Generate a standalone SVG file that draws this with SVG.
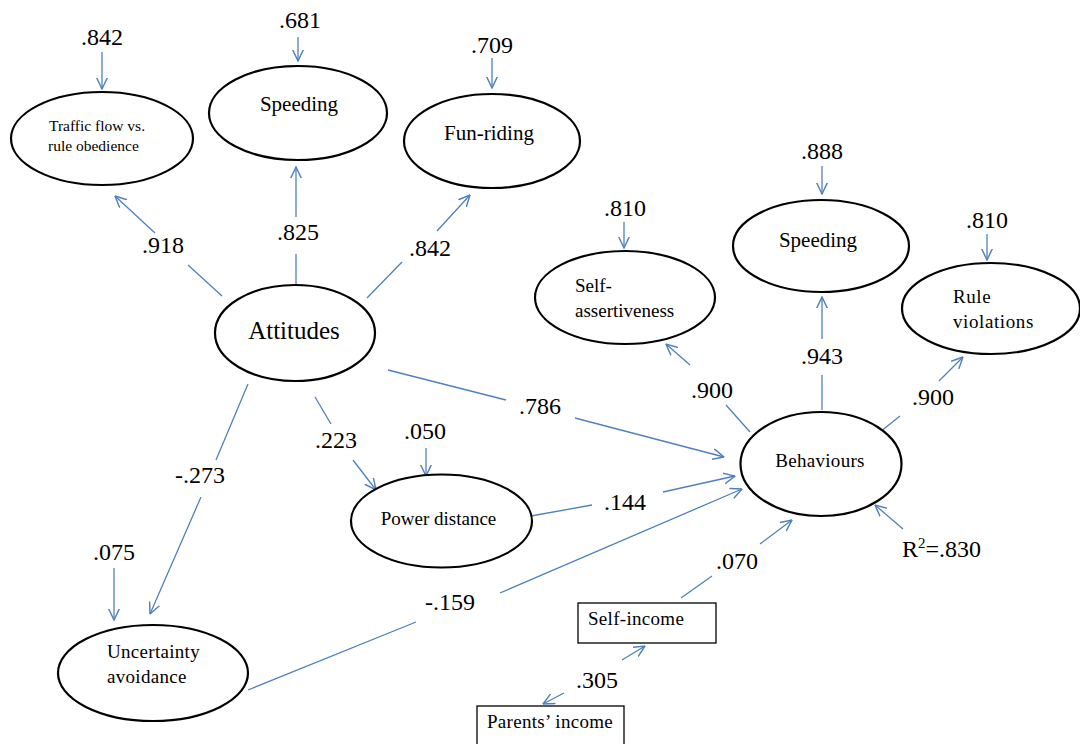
<svg xmlns="http://www.w3.org/2000/svg" width="1080" height="744" viewBox="0 0 1080 744">
<style>
.n ellipse{fill:#fff;stroke:#000;stroke-width:2.2}
.n rect{fill:#fff;stroke:#000;stroke-width:1.3}
text{font-family:"Liberation Serif","Times New Roman",serif;fill:#000}
.v{font-size:24px;text-anchor:middle}
.c{text-anchor:middle}
.s{font-size:19px}
#edges path{fill:none;stroke:#4F81BD;stroke-width:1.3;marker-end:url(#ah)}
</style>
<defs>
<marker id="ah" viewBox="0 0 10 10" refX="9.5" refY="5" markerWidth="12" markerHeight="12" markerUnits="userSpaceOnUse" orient="auto-start-reverse">
<path d="M0,0.5 L9.5,5 L0,9.5" fill="none" stroke="#4F81BD" stroke-width="1.2"/>
</marker>
</defs>
<rect width="1080" height="744" fill="#fff"/>
<g id="edges">
<path d="M222,296 L188,265 M155,233 L115,196"/>
<path d="M296,288 L296,254 M296,217 L296,167"/>
<path d="M367,298 L402,262 M437,231 L470,195"/>
<path d="M388,370 L506,400 M575,418 L724,457"/>
<path d="M315,397 L331,424 M353,460 L376,490"/>
<path d="M248,384 L216,460 M201,497 L150,614"/>
<path d="M426,448 L426,476"/>
<path d="M114,568 L114,620"/>
<path d="M248,690 L416,622 M500,593 L742,489"/>
<path d="M531,516 L592,505 M663,492 L735,476"/>
<path d="M681,598 L712,576 M760,544 L792,520"/>
<path d="M543,704 L564,693 M622,660 L645,646" marker-start="url(#ah)"/>
<path d="M903,529 L875,505"/>
<path d="M750,432 L726,405 M690,365 L666,344"/>
<path d="M822,410 L822,375 M822,339 L822,297"/>
<path d="M880,432 L900,416 M939,381 L963,357"/>
<path d="M102,52 L102,89"/>
<path d="M298,37 L298,61"/>
<path d="M492,58 L492,88"/>
<path d="M624,222 L624,248"/>
<path d="M822,166 L822,194"/>
<path d="M987,234 L987,260"/>
</g>
<g id="traffic" class="n"><ellipse cx="102" cy="138.5" rx="91" ry="46.5"/><text x="49" y="131" font-size="15.5">Traffic flow vs.</text><text x="48" y="151" font-size="15.5">rule obedience</text></g>
<g id="speeding1" class="n"><ellipse cx="298" cy="113" rx="89" ry="47"/><text class="c" x="299" y="111" font-size="21">Speeding</text></g>
<g id="funriding" class="n"><ellipse cx="492" cy="141" rx="88" ry="47"/><text class="c" x="489" y="140" font-size="21">Fun-riding</text></g>
<g id="attitudes" class="n"><ellipse cx="295" cy="333" rx="80" ry="48"/><text class="c" x="294" y="339" font-size="25">Attitudes</text></g>
<g id="selfassert" class="n"><ellipse cx="625" cy="297.5" rx="90" ry="46.5"/><text class="s" x="575" y="292">Self-</text><text class="s" x="575" y="317">assertiveness</text></g>
<g id="speeding2" class="n"><ellipse cx="821" cy="246" rx="88" ry="46"/><text class="c" x="818" y="247" font-size="21">Speeding</text></g>
<g id="rule" class="n"><ellipse cx="991" cy="308.5" rx="89" ry="45.5"/><text class="s" x="953" y="303" letter-spacing="0.6">Rule</text><text class="s" x="953" y="328" letter-spacing="0.6">violations</text></g>
<g id="behaviours" class="n"><ellipse cx="821" cy="464" rx="80.5" ry="52"/><text class="c s" x="820" y="467" letter-spacing="0.3">Behaviours</text></g>
<g id="power" class="n"><ellipse cx="441.5" cy="521" rx="90.5" ry="46.5"/><text class="c s" x="438.5" y="525">Power distance</text></g>
<g id="uncertainty" class="n"><ellipse cx="153" cy="673" rx="95" ry="48"/><text class="s" x="107" y="658" letter-spacing="0.3">Uncertainty</text><text class="s" x="107" y="683" letter-spacing="0.3">avoidance</text></g>
<g id="selfincome" class="n"><rect x="578" y="603" width="138" height="40"/><text class="s" x="588" y="625" letter-spacing="0.3">Self-income</text></g>
<g id="parents" class="n"><rect x="477" y="706" width="147" height="44"/><text class="s" x="487" y="728" letter-spacing="0.3">Parents’ income</text></g>
<g id="labels">
<text class="v" x="102" y="45">.842</text>
<text class="v" x="300" y="28">.681</text>
<text class="v" x="492" y="53">.709</text>
<text class="v" x="163" y="253">.918</text>
<text class="v" x="298" y="240">.825</text>
<text class="v" x="430" y="256">.842</text>
<text class="v" x="625" y="216">.810</text>
<text class="v" x="822" y="159">.888</text>
<text class="v" x="987" y="228">.810</text>
<text class="v" x="822" y="364">.943</text>
<text class="v" x="712" y="398">.900</text>
<text class="v" x="933" y="405">.900</text>
<text class="v" x="540" y="414">.786</text>
<text class="v" x="336" y="448">.223</text>
<text class="v" x="425" y="439">.050</text>
<text class="v" x="200" y="483">-.273</text>
<text class="v" x="625" y="510">.144</text>
<text class="v" x="114" y="560">.075</text>
<text class="v" x="450" y="610">-.159</text>
<text class="v" x="737" y="569">.070</text>
<text class="v" x="597" y="688">.305</text>
<text x="902" y="557" font-size="24">R<tspan font-size="15" dy="-9">2</tspan><tspan dy="9">=.830</tspan></text>
</g>
</svg>
